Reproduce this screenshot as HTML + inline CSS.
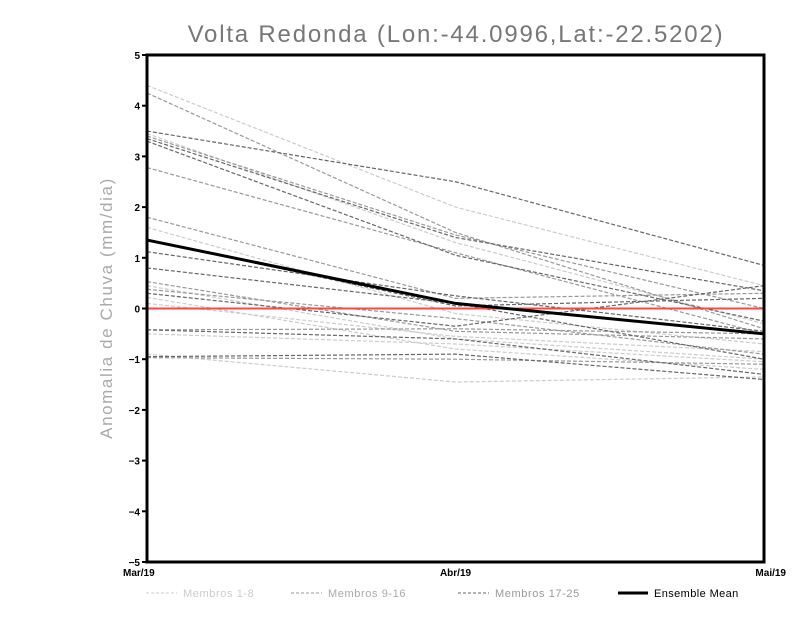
<!DOCTYPE html>
<html><head><meta charset="utf-8"><style>
body{margin:0;background:#fff;}
svg{display:block;font-family:"Liberation Sans",sans-serif;}
</style></head><body>
<svg id="chart" width="800" height="618">
<text x="456" y="42" text-anchor="middle" font-size="24" letter-spacing="1.8" fill="#777">Volta Redonda (Lon:-44.0996,Lat:-22.5202)</text>
<text transform="translate(112,308) rotate(-90)" text-anchor="middle" font-size="17" letter-spacing="1.6" fill="#aaa">Anomalia de Chuva (mm/dia)</text>
<g id="ticks"></g>
<g id="series"></g>
<rect x="147" y="55" width="617" height="507" fill="none" stroke="#000" stroke-width="3"/>
<g id="legend">
<line x1="146" y1="593" x2="177" y2="593" stroke="#ccc" stroke-dasharray="3,2"/>
<text x="183" y="597" font-size="11" letter-spacing="0.6" fill="#ccc">Membros 1-8</text>
<line x1="291" y1="593" x2="322" y2="593" stroke="#999" stroke-dasharray="3,2"/>
<text x="328" y="597" font-size="11" letter-spacing="0.6" fill="#aaa">Membros 9-16</text>
<line x1="458" y1="593" x2="489" y2="593" stroke="#666" stroke-dasharray="3,2"/>
<text x="495" y="597" font-size="11" letter-spacing="0.6" fill="#999">Membros 17-25</text>
<line x1="618" y1="593" x2="648" y2="593" stroke="#000" stroke-width="3"/>
<text x="654" y="597" font-size="11" letter-spacing="0.4" fill="#000">Ensemble Mean</text>
</g>
</svg>
<script>
const categories=["Mar/19","Abr/19","Mai/19"];
const yTicks=[-5,-4,-3,-2,-1,0,1,2,3,4,5];
const group1=[[4.4,2.0,0.45],[3.45,1.3,-0.3],[1.6,-0.1,-0.7],[0.45,-0.6,-1.0],[0.22,-0.8,-1.2],[-0.5,-0.7,-1.05],[-0.9,-1.45,-1.35],[0.1,-0.55,-0.85]];
const group2=[[4.25,1.5,-0.4],[3.4,1.45,0.0],[2.78,1.1,-0.5],[1.8,0.2,0.3],[0.53,-0.45,-0.6],[0.38,-0.2,-0.9],[-0.42,-0.4,-0.5],[-0.97,-1.0,-1.1]];
const group3=[[3.5,2.5,0.85],[3.35,1.4,0.35],[3.3,1.05,-0.25],[1.35,0.05,0.2],[1.12,0.25,-0.45],[0.8,0.1,-1.0],[0.3,-0.35,0.45],[-0.95,-0.9,-1.4],[-0.42,-0.6,-1.3]];
const meanSeries=[1.35,0.1,-0.5];
const zeroLine=0;
const X0=147,X1=764,Y0=562,Y1=55;
const xs=i=>X0+(X1-X0)*i/(categories.length-1);
const ys=v=>Y0+(Y1-Y0)*(v+5)/10;
const NS="http://www.w3.org/2000/svg";
const tk=document.getElementById('ticks'),sg=document.getElementById('series');
yTicks.forEach(t=>{
 const l=document.createElementNS(NS,'line');
 l.setAttribute('x1',X0-5);l.setAttribute('x2',X0);l.setAttribute('y1',ys(t));l.setAttribute('y2',ys(t));l.setAttribute('stroke','#000');l.setAttribute('stroke-width',2);
 
 
 tk.appendChild(l);
 const tx=document.createElementNS(NS,'text');
 tx.setAttribute('x',X0-7);tx.setAttribute('y',ys(t)+4);tx.setAttribute('text-anchor','end');tx.setAttribute('font-size','10');tx.setAttribute('font-weight','bold');
 tx.textContent=t<0?'\u2212'+(-t):t;
 
 
 tk.appendChild(tx);
});
categories.forEach((c,i)=>{
 const tx=document.createElementNS(NS,'text');
 tx.setAttribute('x',xs(i));tx.setAttribute('y',576);tx.setAttribute('font-size','10');tx.setAttribute('font-weight','bold');
 tx.setAttribute('text-anchor',i==0?'start':(i==categories.length-1?'end':'middle'));
 if(i==0)tx.setAttribute('x',xs(i)-24);
 if(i==categories.length-1)tx.setAttribute('x',xs(i)+22);
 tx.textContent=c;
 
 
 tk.appendChild(tx);
});
function line(vals,color,w,dash,name){
 const p=document.createElementNS(NS,'polyline');
 p.setAttribute('points',vals.map((v,i)=>xs(i)+','+ys(v)).join(' '));
 p.setAttribute('fill','none');p.setAttribute('stroke',color);p.setAttribute('stroke-width',w);
 if(dash)p.setAttribute('stroke-dasharray',dash);
 
 
 sg.appendChild(p);
}
group1.forEach(s=>line(s,'#ccc',1.2,'4,2','member-line-1-8'));
group2.forEach(s=>line(s,'#999',1.2,'4,2','member-line-9-16'));
group3.forEach(s=>line(s,'#666',1.2,'4,2','member-line-17-25'));
line([zeroLine,zeroLine,zeroLine],'#f44',2,null,'zero-line');
line(meanSeries,'#000',3,null,'ensemble-mean-line');
</script>
</body></html>
